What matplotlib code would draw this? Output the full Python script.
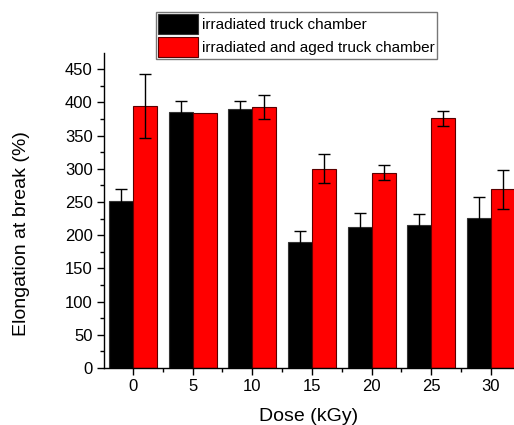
import matplotlib
matplotlib.use("Agg")
import matplotlib.pyplot as plt
from matplotlib.ticker import MultipleLocator
import numpy as np

doses = [0, 5, 10, 15, 20, 25, 30]
irradiated = [252, 385, 390, 190, 213, 216, 226]
irradiated_err = [17, 17, 12, 17, 20, 16, 31]
aged = [394, 384, 393, 300, 294, 376, 269]
aged_err = [48, 0, 18, 22, 11, 11, 29]
labels = ["irradiated truck chamber", "irradiated and aged truck chamber"]

plt.rcParams['font.family'] = ['Liberation Sans', 'DejaVu Sans']

fig = plt.figure(figsize=(5.14, 4.25), dpi=100)
ax = fig.add_axes([0.2023, 0.134, 0.7977, 0.741])

x = np.array(doses, dtype=float)
w = 2.0
b1 = ax.bar(x - w / 2, irradiated, width=w, color='black', edgecolor='#333333',
            linewidth=0.8, label=labels[0], zorder=2)
b2 = ax.bar(x + w / 2, aged, width=w, color='#ff0000', edgecolor='#5a0000',
            linewidth=0.8, label=labels[1], zorder=2)

ekw = dict(fmt='none', ecolor='black', elinewidth=1.0, capsize=4, capthick=1.0, zorder=3)
for xs, vals, errs in [(x - w / 2, irradiated, irradiated_err), (x + w / 2, aged, aged_err)]:
    m = np.array(errs) > 0
    ax.errorbar(np.array(xs)[m], np.array(vals)[m], yerr=np.array(errs)[m], **ekw)

ax.set_xlim(-2.43, 31.93)
ax.set_ylim(0, 474)
ax.set_xticks(doses)
ax.set_xticklabels([str(d) for d in doses])
ax.xaxis.set_minor_locator(MultipleLocator(2.5))
ax.yaxis.set_major_locator(MultipleLocator(50))
ax.yaxis.set_minor_locator(MultipleLocator(25))
ax.tick_params(axis='both', which='major', direction='out', length=5, width=1,
               labelsize=12, pad=3)
ax.tick_params(axis='both', which='minor', direction='out', length=3, width=1)
for s in ['top', 'right']:
    ax.spines[s].set_visible(False)
for s in ['left', 'bottom']:
    ax.spines[s].set_linewidth(1.0)

ax.set_xlabel("Dose (kGy)", fontsize=14, labelpad=10)
ax.set_ylabel("Elongation at break (%)", fontsize=14, va='center')
ax.yaxis.set_label_coords((22 - 104) / 410.0, (368 - 233.5) / 315.0)

leg = fig.legend(handles=[b1, b2], labels=labels, loc='upper left',
                 bbox_to_anchor=(156 / 514, 1 - 12 / 425), fontsize=11,
                 frameon=True, fancybox=False, edgecolor='#555555',
                 handlelength=2.6, handleheight=1.7, handletextpad=0.3,
                 borderpad=0.12, labelspacing=0.15, borderaxespad=0)
leg.get_frame().set_linewidth(1.0)

fig.savefig("out.png", dpi=100)
